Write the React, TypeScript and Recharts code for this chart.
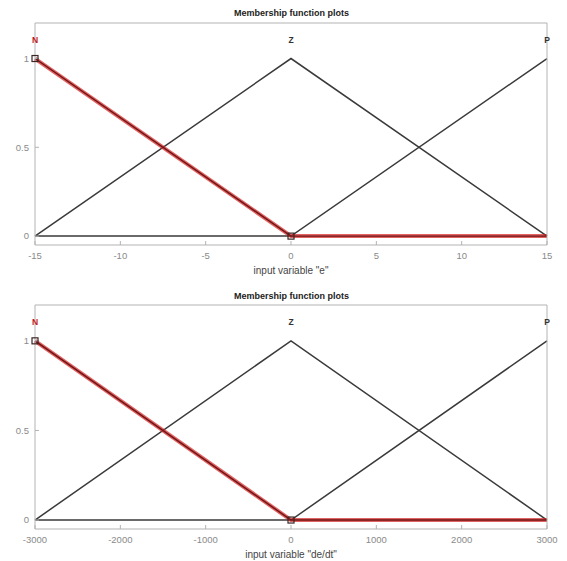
import React from "react";
import { LineChart, Line, XAxis, YAxis, Scatter } from "recharts";

const mfNames = ["N", "Z", "P"];
const eTicks = [-15, -10, -5, 0, 5, 10, 15];
const dedtTicks = [-3000, -2000, -1000, 0, 1000, 2000, 3000];
const yTicks = [0, 0.5, 1];
// membership at left end, centre, right end of the input range
const nValues = [1, 0, 0];
const zValues = [0, 1, 0];
const pValues = [0, 0, 1];
const labelLevel = 1.1;

const FONT = '"Liberation Sans", Arial, sans-serif';
const AXIS = "#b3b3b3";
const BLACK = "#3a3a3a";
const RED = "#d42020";

type PlotProps = {
  ticks: number[];
  xLabel: string;
  height: number;
  top: number;
  plotTop: number;
  plotBottom: number;
};

function MFPlot({ ticks, xLabel, height, top, plotTop, plotBottom }: PlotProps) {
  const xs = [ticks[0], 0, ticks[ticks.length - 1]];
  const pts = (vals: number[]) => xs.map((x, i) => ({ x, y: vals[i] }));
  const labels = mfNames.map((name, i) => ({ x: xs[i], y: labelLevel, name }));
  const handles = [
    { x: xs[0], y: nValues[0] },
    { x: xs[1], y: nValues[1] },
  ];
  const xAxisH = 30;
  const bottomMargin = height - plotBottom - xAxisH;

  return (
    <div style={{ position: "absolute", left: 0, top, width: 567, height }}>
      <div
        style={{
          position: "absolute",
          left: 35,
          width: 513,
          top: 8,
          textAlign: "center",
          fontFamily: FONT,
          fontWeight: "bold",
          fontSize: 9,
          color: "#222",
        }}
      >
        Membership function plots
      </div>
      <LineChart
        width={567}
        height={height}
        margin={{ top: plotTop - 1, right: 19, bottom: bottomMargin, left: 10 }}
      >
        <XAxis
          dataKey="x"
          type="number"
          domain={[ticks[0], ticks[ticks.length - 1]]}
          ticks={ticks}
          stroke={AXIS}
          tickSize={-4}
          tickMargin={11}
          height={xAxisH}
          tick={{ fontSize: 9.5, fill: "#8a8a8a", fontFamily: FONT }}
          label={{
            value: xLabel,
            position: "insideBottom",
            offset: 1,
            style: { fontSize: 10, fill: "#444", fontFamily: FONT },
          }}
        />
        <XAxis
          xAxisId="top"
          orientation="top"
          type="number"
          domain={[ticks[0], ticks[ticks.length - 1]]}
          ticks={ticks}
          stroke={AXIS}
          tickSize={-4}
          tick={false}
          height={1}
        />
        <YAxis
          type="number"
          domain={[-0.05, 1.2]}
          ticks={yTicks}
          stroke={AXIS}
          tickSize={-4}
          tickMargin={10}
          width={25}
          tick={{ fontSize: 9.5, fill: "#8a8a8a", fontFamily: FONT }}
        />
        <YAxis
          yAxisId="right"
          orientation="right"
          type="number"
          domain={[-0.05, 1.2]}
          ticks={yTicks}
          stroke={AXIS}
          tickSize={-4}
          tick={false}
          width={1}
        />
        <Line
          data={pts(zValues)}
          dataKey="y"
          type="linear"
          stroke={BLACK}
          strokeWidth={1.5}
          dot={false}
          activeDot={false}
          isAnimationActive={false}
        />
        <Line
          data={pts(pValues)}
          dataKey="y"
          type="linear"
          stroke={BLACK}
          strokeWidth={1.5}
          dot={false}
          activeDot={false}
          isAnimationActive={false}
        />
        <Line
          data={pts(nValues)}
          dataKey="y"
          type="linear"
          stroke={RED}
          strokeOpacity={0.7}
          strokeWidth={4}
          dot={false}
          activeDot={false}
          isAnimationActive={false}
        />
        <Line
          data={pts(nValues)}
          dataKey="y"
          type="linear"
          stroke="#6e1414"
          strokeWidth={1.4}
          dot={false}
          activeDot={false}
          isAnimationActive={false}
        />
        <Scatter
          data={handles}
          dataKey="y"
          isAnimationActive={false}
          shape={(p: any) => (
            <rect
              x={p.cx - 3}
              y={p.cy - 3}
              width={6}
              height={6}
              fill="none"
              stroke="#3a2626"
              strokeWidth={1.2}
            />
          )}
        />
        <Scatter
          data={labels}
          dataKey="y"
          isAnimationActive={false}
          shape={(p: any) => (
            <text
              x={p.cx}
              y={p.cy}
              textAnchor="middle"
              dominantBaseline="middle"
              fontSize={8.5}
              fontWeight="bold"
              fontFamily={FONT}
              fill={p.payload.name === "N" ? "#c01818" : "#333"}
            >
              {p.payload.name}
            </text>
          )}
        />
      </LineChart>
    </div>
  );
}

export default function App() {
  return (
    <div
      style={{
        position: "absolute",
        left: 0,
        top: 0,
        width: 567,
        height: 561,
        background: "#fff",
      }}
    >
      <MFPlot ticks={eTicks} xLabel={'input variable "e"'} height={283} top={0} plotTop={23} plotBottom={245} />
      <MFPlot ticks={dedtTicks} xLabel={'input variable "de/dt"'} height={278} top={283} plotTop={22} plotBottom={246} />
    </div>
  );
}
